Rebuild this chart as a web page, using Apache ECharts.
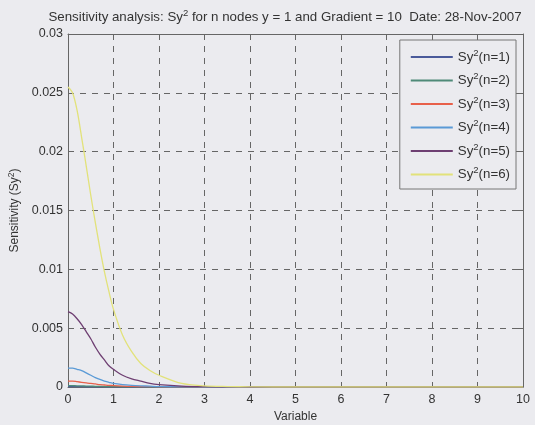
<!DOCTYPE html>
<html><head><meta charset="utf-8">
<script src="https://cdn.jsdelivr.net/npm/echarts@6/dist/echarts.min.js"></script>
<style>html,body{margin:0;padding:0;background:#ebebef;}#c{width:535px;height:425px;}</style>
</head><body><div id="c"></div>
<script>
const xValues = [0,0.1,0.2,0.3,0.4,0.5,0.6,0.7,0.8,0.9,1.0,1.2,1.4,1.6,1.8,2.0,2.5,3,3.5,4,5,6,7,8,9,10];
const n1 = [0.00003,0.00003,0.00003,0.00003,0.00002,0.00002,0.00002,0.00002,0.00001,0.00001,0.00001,0.00001,0,0,0,0,0,0,0,0,0,0,0,0,0,0];
const n2 = [0.00012,0.00011,0.0001,0.00009,0.00008,0.00007,0.00006,0.00005,0.00004,0.00003,0.00003,0.00002,0.00001,0.00001,0,0,0,0,0,0,0,0,0,0,0,0];
const n3 = [0.0005,0.0005,0.00045,0.0004,0.00035,0.0003,0.00026,0.0002,0.00017,0.00014,0.00012,0.00008,0.00005,0.00004,0.00003,0.00002,0.00001,0,0,0,0,0,0,0,0,0];
const n4 = [0.0016,0.0016,0.0015,0.0014,0.0012,0.0010,0.0008,0.00065,0.0005,0.0004,0.0003,0.0002,0.00014,0.0001,0.00007,0.00004,0.00001,0,0,0,0,0,0,0,0,0];
const n5 = [0.0064,0.0062,0.0058,0.0053,0.0047,0.0041,0.0034,0.0028,0.0023,0.0018,0.0015,0.0010,0.0007,0.0005,0.0003,0.0002,0.00008,0.00003,0.00001,0,0,0,0,0,0,0];
const n6 = [0.0255,0.0250,0.0235,0.0212,0.0188,0.0163,0.0140,0.0118,0.0098,0.0081,0.0066,0.0044,0.0030,0.0020,0.0014,0.0010,0.0003,0.0001,0.00004,0.00001,0,0,0,0,0,0];
const seriesNames = ['n=1','n=2','n=3','n=4','n=5','n=6'];
const seriesData = [n1,n2,n3,n4,n5,n6];
const colors = ['#4a5a9a','#4f8a78','#e8604a','#5a9ad6','#6e3f72','#e2e27a'];
const xTicks = [0,1,2,3,4,5,6,7,8,9,10];

const font = 'Liberation Sans, Arial, sans-serif';
const chart = echarts.init(document.getElementById('c'));
const series = seriesData.map((d,i)=>({
  name: seriesNames[i], type:'line', smooth:0.3, symbol:'none',
  data: xValues.map((x,j)=>[x,d[j]]),
  lineStyle:{color:colors[i], width:1.3}, itemStyle:{color:colors[i]}, z: 3+i
}));
chart.setOption({
  backgroundColor:'#ebebef',
  animation:false,
  title:{
    text:'Sensitivity analysis: Sy{sup|2} for n nodes y = 1 and Gradient = 10  Date: 28-Nov-2007',
    left:280, top:3, textAlign:'center',
    textStyle:{fontFamily:font, fontSize:13.3, fontWeight:'normal', color:'#333',
      rich:{sup:{fontSize:9.5, verticalAlign:'top', padding:[0,0,8,0], color:'#333', fontFamily:font}}}
  },
  grid:{left:68, right:12, top:34, bottom:38, outerBoundsMode:'none', containLabel:false},
  legend:{
    data:seriesNames, orient:'vertical', right:19, top:40,
    backgroundColor:'#ebebef', borderColor:'#777', borderWidth:1,
    padding:[8,6,8,11], itemGap:8, itemWidth:42, itemHeight:2, icon:'rect',
    formatter: n => 'Sy{sup|2}(' + n + ')',
    textStyle:{fontFamily:font, fontSize:13.3, color:'#333',
      rich:{sup:{fontSize:9.5, verticalAlign:'top', padding:[0,0,8,0], fontFamily:font, color:'#333'}}}
  },
  xAxis:[{
    type:'value', min:0, max:10, interval:1,
    name:'Variable', nameLocation:'middle', nameGap:22,
    nameTextStyle:{fontFamily:font, fontSize:12, color:'#333'},
    axisLine:{lineStyle:{color:'#666', width:1}},
    axisTick:{inside:true, length:5, lineStyle:{color:'#666'}},
    axisLabel:{fontFamily:font, fontSize:12.5, color:'#333', margin:6},
    splitLine:{show:true, lineStyle:{color:'#666', type:[6,6], width:1}}
  },{
    type:'value', min:0, max:10, interval:1, position:'top',
    axisLine:{show:true, onZero:false, lineStyle:{color:'#666'}},
    axisTick:{inside:true, length:5, lineStyle:{color:'#666'}},
    axisLabel:{show:false}, splitLine:{show:false}
  }],
  yAxis:[{
    type:'value', min:0, max:0.03, interval:0.005,
    name:'Sensitivity (Sy{sup|2})', nameLocation:'middle', nameGap:45,
    nameTextStyle:{fontFamily:font, fontSize:12, color:'#333',
      rich:{sup:{fontSize:8.5, verticalAlign:'top', padding:[0,0,7,0], fontFamily:font, color:'#333'}}},
    axisLine:{show:true, lineStyle:{color:'#666'}},
    axisTick:{show:true, inside:true, length:5, lineStyle:{color:'#666'}},
    axisLabel:{fontFamily:font, fontSize:12.5, color:'#333', margin:5},
    splitLine:{show:true, lineStyle:{color:'#666', type:[6,6], width:1}}
  },{
    type:'value', min:0, max:0.03, interval:0.005, position:'right',
    axisLine:{show:true, onZero:false, lineStyle:{color:'#666'}},
    axisTick:{show:true, inside:true, length:5, lineStyle:{color:'#666'}},
    axisLabel:{show:false}, splitLine:{show:false}
  }],
  series: series
});
</script></body></html>
